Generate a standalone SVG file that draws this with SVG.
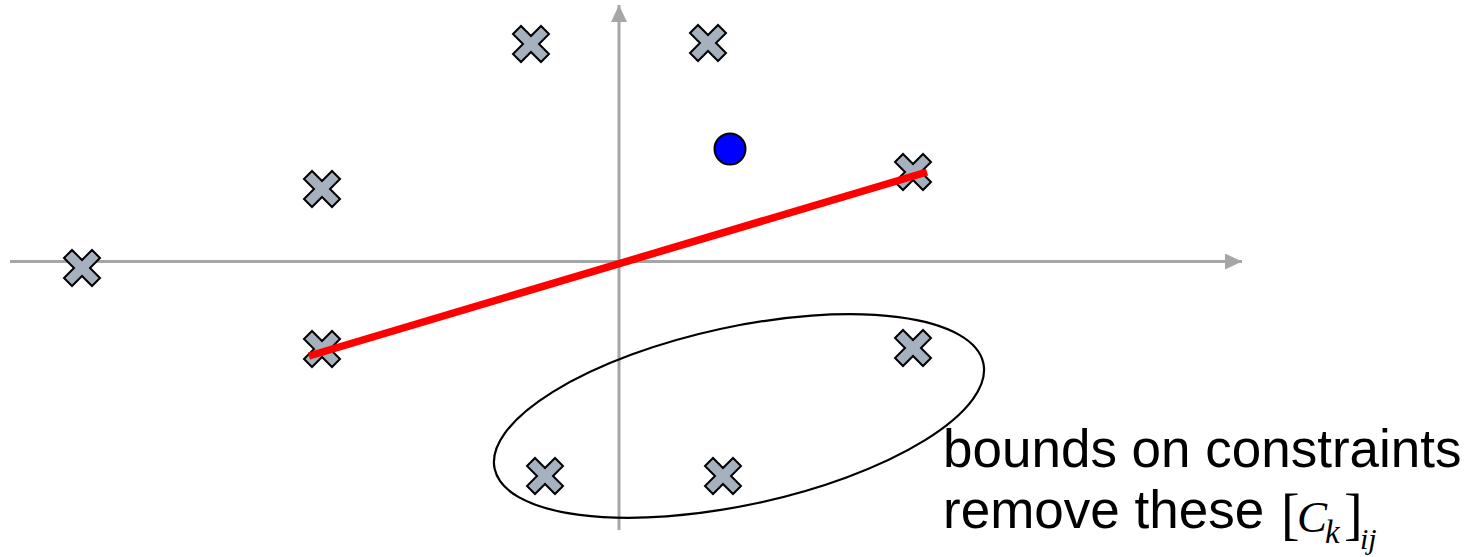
<svg xmlns="http://www.w3.org/2000/svg" width="1479" height="557" viewBox="0 0 1479 557">
<style>
.axis{stroke:#a6a6a6;stroke-width:3;fill:none}
.cross{fill:#a6b1bf;stroke:#000;stroke-width:2;stroke-linejoin:miter}
.lbl{font-family:"Liberation Sans",Arial,sans-serif;font-size:53px;fill:#000}
.math{font-family:"Liberation Serif","Times New Roman",serif;fill:#000}
</style>
<defs>
<marker id="ah" viewBox="0 0 17 16" refX="17" refY="8" markerWidth="17" markerHeight="16" markerUnits="userSpaceOnUse" orient="auto">
<path d="M0,0 L17,8 L0,16 Z" fill="#a6a6a6"/>
</marker>
<path id="x" d="M-18,-10 L-10,-18 L0,-8 L10,-18 L18,-10 L8,0 L18,10 L10,18 L0,8 L-10,18 L-18,10 L-8,0 Z"/>
</defs>
<g id="connectors">
<line id="x-axis" class="axis" x1="10" y1="261.5" x2="1242" y2="261.5" marker-end="url(#ah)"/>
<line id="y-axis" class="axis" x1="619" y1="530" x2="619" y2="5" marker-end="url(#ah)"/>
</g>
<g id="ellipse">
<ellipse cx="739" cy="416" rx="250" ry="89" transform="rotate(-12.2 739 416)" fill="none" stroke="#000" stroke-width="2.2"/>
</g>
<g id="points">
<use id="p1" href="#x" class="cross" x="531" y="44"/>
<use id="p2" href="#x" class="cross" x="708" y="43"/>
<use id="p3" href="#x" class="cross" x="322" y="189"/>
<use id="p4" href="#x" class="cross" x="913" y="172"/>
<use id="p5" href="#x" class="cross" x="82" y="268"/>
<use id="p6" href="#x" class="cross" x="322" y="349"/>
<use id="p7" href="#x" class="cross" x="913" y="348"/>
<use id="p8" href="#x" class="cross" x="545" y="476"/>
<use id="p9" href="#x" class="cross" x="723" y="476"/>
</g>
<g id="separator">
<line x1="309" y1="356" x2="927" y2="172" stroke="#ff0000" stroke-width="7.5"/>
</g>
<g id="query">
<circle cx="730" cy="149" r="15.5" fill="#0000ff" stroke="#000" stroke-width="2"/>
</g>
<g id="label">
<text class="lbl" x="943" y="467">bounds on constraints</text>
<text class="lbl" x="943" y="528">remove these</text>
<text class="math" x="1281" y="533" font-size="56">[</text>
<text class="math" x="1297" y="532" font-size="45" font-style="italic">C</text>
<text class="math" x="1325" y="543" font-size="33" font-style="italic">k</text>
<text class="math" x="1344" y="533" font-size="56">]</text>
<text class="math" x="1360" y="549" font-size="30" font-style="italic">ij</text>
</g>
</svg>
